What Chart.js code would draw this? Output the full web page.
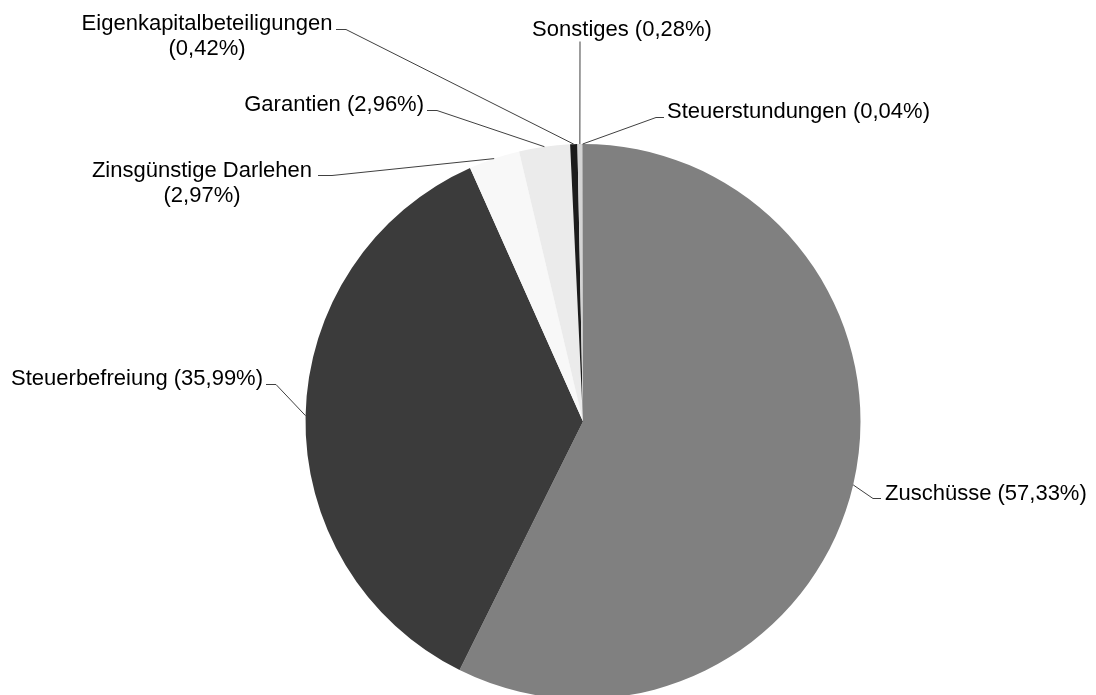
<!DOCTYPE html>
<html>
<head>
<meta charset="utf-8">
<script src="https://cdn.jsdelivr.net/npm/chart.js@4/dist/chart.umd.min.js"></script>
<style>
html,body{margin:0;padding:0;background:#fff;overflow:hidden;}
#wrap{position:absolute;left:0;top:0;width:1096px;height:700px;}
</style>
</head>
<body>
<div id="wrap"><canvas id="c" width="1096" height="700"></canvas></div>
<script>
// ---- data ----
const categories = ["Zuschüsse","Steuerbefreiung","Zinsgünstige Darlehen","Garantien","Eigenkapitalbeteiligungen","Sonstiges","Steuerstundungen"];
const shares = [57.33, 35.99, 2.97, 2.96, 0.42, 0.28, 0.04];

// ---- styling ----
const sliceColors = ["#808080","#3b3b3b","#f8f8f8","#ebebeb","#1c1c1c","#d4d4d4","#8c8c8c"];
// label layout: leader path points (after the arc anchor), text anchor, alignment, baselines
const labelLayout = [
  {path:[[873,498],[881,498]], x:885, align:"left",   base:[500], split:false},
  {path:[[276,384],[266,384]], x:263, align:"right",  base:[385], split:false},
  {path:[[332,175],[318,175]], x:202, align:"center", base:[177,202], split:true},
  {path:[[437,110],[427,110]], x:424, align:"right",  base:[111], split:false},
  {path:[[346,29],[336,29]],   x:207, align:"center", base:[30,55], split:true},
  {path:[[580,41]],            x:622, align:"center", base:[36], split:false},
  {path:[[656,117],[664,117]], x:667, align:"left",   base:[118], split:false}
];

function pct(v){ return "(" + v.toFixed(2).replace(".", ",") + "%)"; }

const leaderLabels = {
  id: "leaderLabels",
  beforeDraw(chart){
    const ctx = chart.ctx;
    ctx.save();
    ctx.fillStyle = "#ffffff";
    ctx.fillRect(0,0,chart.width,chart.height);
    ctx.restore();
  },
  afterDraw(chart){
    const ctx = chart.ctx;
    const meta = chart.getDatasetMeta(0);
    ctx.save();
    ctx.font = '22px "Liberation Sans", Arial, sans-serif';
    meta.data.forEach((arc, i) => {
      const p = arc.getProps(["x","y","startAngle","endAngle","outerRadius"], true);
      const a = (p.startAngle + p.endAngle) / 2;
      const ax = p.x + Math.cos(a) * p.outerRadius;
      const ay = p.y + Math.sin(a) * p.outerRadius;
      const L = labelLayout[i];
      ctx.strokeStyle = "#404040";
      ctx.lineWidth = 1;
      ctx.beginPath();
      ctx.moveTo(ax, ay);
      L.path.forEach(pt => ctx.lineTo(pt[0], pt[1] + 0.5));
      ctx.stroke();
      ctx.fillStyle = "#000000";
      ctx.textAlign = L.align;
      ctx.textBaseline = "alphabetic";
      const lines = L.split ? [categories[i], pct(shares[i])] : [categories[i] + " " + pct(shares[i])];
      lines.forEach((t, k) => ctx.fillText(t, L.x, L.base[k]));
    });
    ctx.restore();
  }
};

new Chart(document.getElementById("c"), {
  type: "pie",
  data: {
    labels: categories,
    datasets: [{
      data: shares,
      backgroundColor: sliceColors,
      borderWidth: 0,
      hoverBorderWidth: 0,
      hoverOffset: 0
    }]
  },
  options: {
    responsive: false,
    animation: false,
    devicePixelRatio: 1,
    radius: 277.5,
    layout: { padding: { left: 305, right: 235, top: 144, bottom: 1 } },
    plugins: { legend: { display: false }, tooltip: { enabled: false } },
    events: []
  },
  plugins: [leaderLabels]
});
</script>
</body>
</html>
